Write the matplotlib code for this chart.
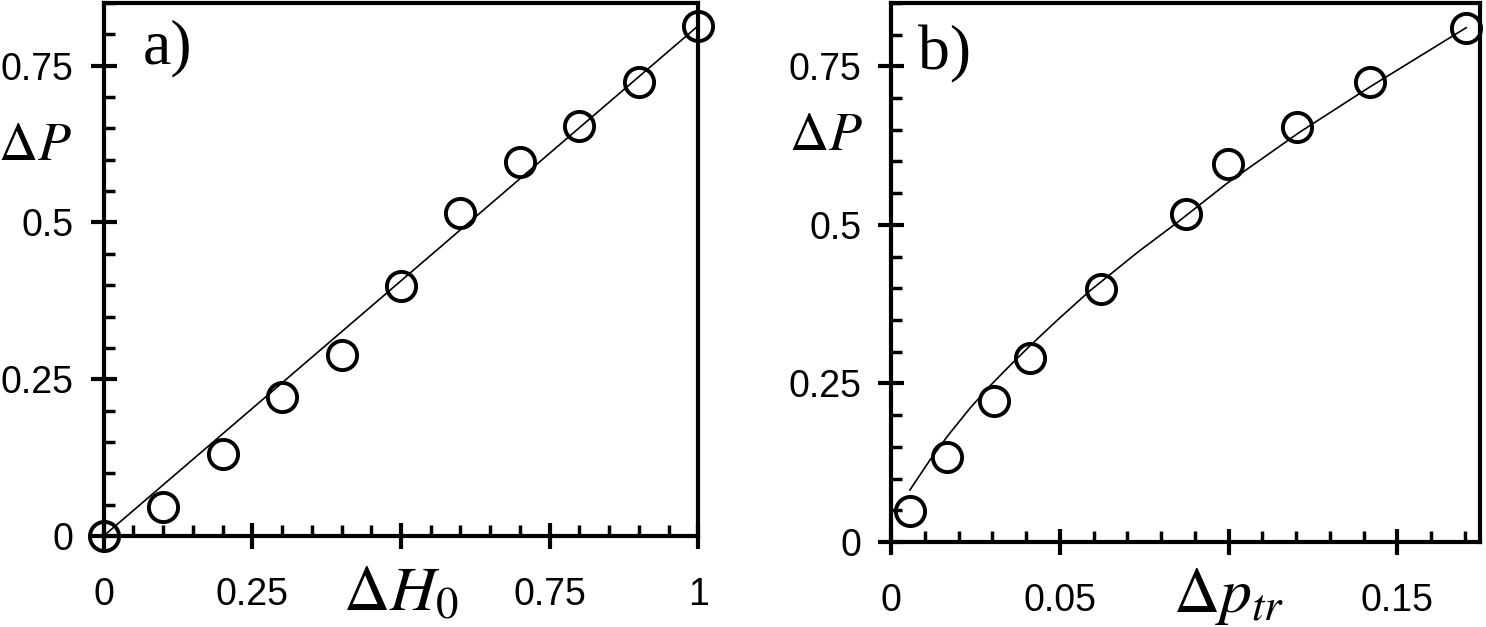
import matplotlib
matplotlib.use('Agg')
import matplotlib.pyplot as plt
import matplotlib.transforms as mtransforms
from matplotlib.ticker import MultipleLocator

plt.rcParams['mathtext.fontset'] = 'stix'
plt.rcParams['font.family'] = ['Liberation Sans', 'DejaVu Sans']

# panel a) : dP versus dH0
dH0 = [0.0, 0.1, 0.2, 0.3, 0.4, 0.5, 0.6, 0.7, 0.8, 0.9, 1.0]
dP_a = [0.0, 0.046, 0.131, 0.222, 0.289, 0.399, 0.515, 0.596, 0.654, 0.724, 0.814]
# straight fit line (end points)
fit_a_x = [0.0, 1.0]
fit_a_y = [0.0, 0.814]

# panel b) : dP versus dp_tr
dptr = [0.0056, 0.0166, 0.0305, 0.0411, 0.0621, 0.0873, 0.0997, 0.1204, 0.142, 0.1704]
dP_b = [0.049, 0.134, 0.222, 0.290, 0.399, 0.517, 0.596, 0.654, 0.725, 0.811]
# fitted curve, points
fit_b_x = [0.0056, 0.0115, 0.0169, 0.0234, 0.0293, 0.0352, 0.0411, 0.0491, 0.0589,
           0.0731, 0.0846, 0.0994, 0.121, 0.1417, 0.1704]
fit_b_y = [0.082, 0.129, 0.168, 0.211, 0.246, 0.278, 0.309, 0.349, 0.396,
           0.457, 0.503, 0.565, 0.646, 0.717, 0.811]

xticks_a = [0, 0.25, 0.5, 0.75, 1]
xlabels_a = ['0', '0.25', '', '0.75', '1']
xticks_b = [0, 0.05, 0.1, 0.15]
xlabels_b = ['0', '0.05', '', '0.15']
yticks = [0, 0.25, 0.5, 0.75]
ylabels = ['0', '0.25', '0.5', '0.75']

fig = plt.figure(figsize=(14.86, 6.27), dpi=100)
ax1 = fig.add_axes([0.0697, 0.1451, 0.4003, 0.8501])
ax2 = fig.add_axes([0.5996, 0.1356, 0.3964, 0.8597])


def style(ax, xt, xl, xminor, xmax):
    ax.set_xlim(0, xmax)
    ax.set_ylim(0, 0.85)
    for s in ax.spines.values():
        s.set_linewidth(3)
    ax.set_xticks(xt, labels=xl, fontsize=27)
    ax.set_yticks(yticks, labels=ylabels, fontsize=27)
    ax.xaxis.set_minor_locator(MultipleLocator(xminor))
    ax.yaxis.set_minor_locator(MultipleLocator(0.05))
    ax.tick_params(which='major', direction='inout', length=19, width=3, color='black')
    ax.tick_params(axis='x', which='major', pad=20)
    ax.tick_params(axis='y', which='major', pad=12)
    ax.tick_params(which='minor', direction='in', length=8, width=2.5)


style(ax1, xticks_a, xlabels_a, 0.05, 1.0)
style(ax2, xticks_b, xlabels_b, 0.01, 0.1745)

ax1.plot(fit_a_x, fit_a_y, color='black', lw=1.2)
ax1.plot(dH0, dP_a, 'o', ms=21, mew=2.8, mfc='none', mec='black', clip_on=False, zorder=5)

ax2.plot(fit_b_x, fit_b_y, color='black', lw=1.2)
ax2.plot(dptr, dP_b, 'o', ms=21, mew=2.8, mfc='none', mec='black', clip_on=False, zorder=5)

# axis labels sit in place of a tick label
t1 = mtransforms.blended_transform_factory(ax1.transData, ax1.transAxes)
ax1.text(0.5, -0.139, r'$\Delta H_0$', transform=t1, ha='center', va='baseline', fontsize=46)
t2 = mtransforms.blended_transform_factory(ax2.transData, ax2.transAxes)
ax2.text(0.1, -0.130, r'$\Delta p_{tr}$', transform=t2, ha='center', va='baseline', fontsize=46)

t1y = mtransforms.blended_transform_factory(ax1.transAxes, ax1.transData)
ax1.text(-0.053, 0.622, r'$\Delta P$', transform=t1y, ha='right', va='center', fontsize=39)
t2y = mtransforms.blended_transform_factory(ax2.transAxes, ax2.transData)
ax2.text(-0.048, 0.64, r'$\Delta P$', transform=t2y, ha='right', va='center', fontsize=39)

ax1.text(0.066, 0.886, 'a)', transform=ax1.transAxes, family='Liberation Serif',
         fontsize=46, ha='left', va='baseline')
ax2.text(0.046, 0.876, 'b)', transform=ax2.transAxes, family='Liberation Serif',
         fontsize=46, ha='left', va='baseline')

fig.savefig('out.png', dpi=100)
